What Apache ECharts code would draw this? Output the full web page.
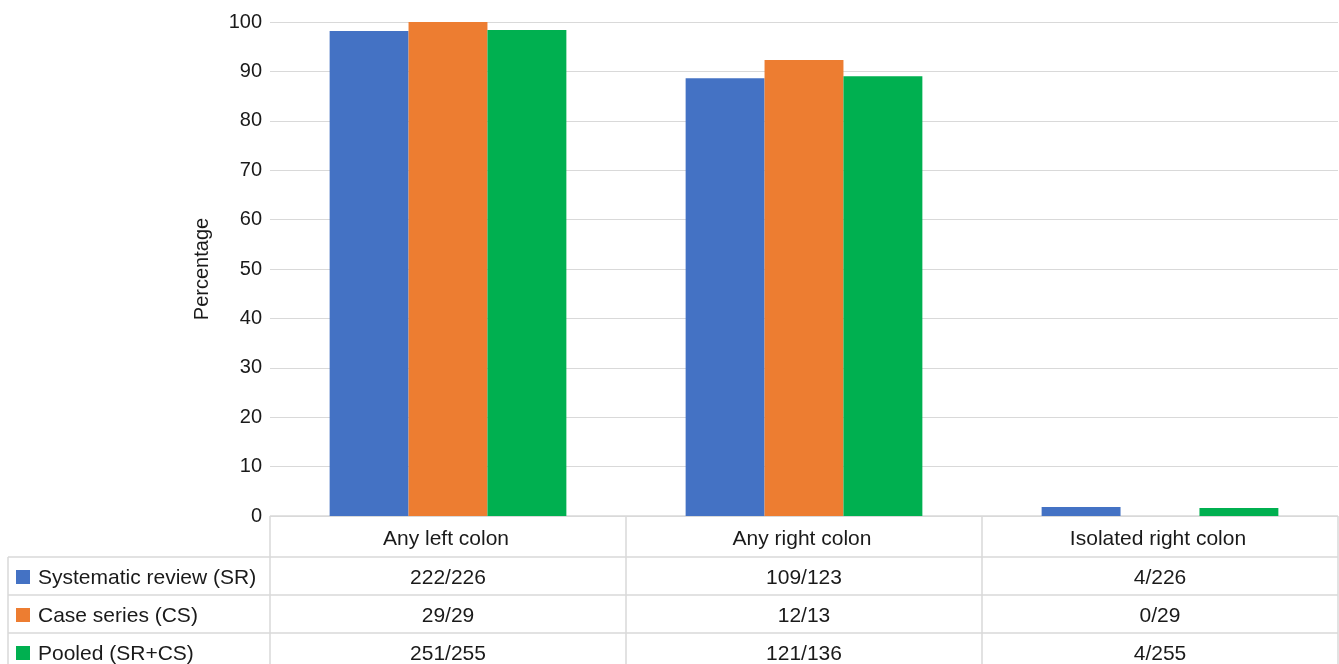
<!DOCTYPE html>
<html>
<head>
<meta charset="utf-8">
<script src="https://cdn.jsdelivr.net/npm/echarts@6/dist/echarts.min.js"></script>
<style>
  html, body { margin: 0; padding: 0; background: #fff; }
  #chart { width: 1339px; height: 664px; }
</style>
</head>
<body>
<div id="chart"></div>
<script>
// Categories and series
const categories = ['Any left colon', 'Any right colon', 'Isolated right colon'];
const seriesNames = ['Systematic review (SR)', 'Case series (CS)', 'Pooled (SR+CS)'];
const seriesColors = ['#4472C4', '#ED7D31', '#00B050'];

// Percentages per category
const srPct = [98.2, 88.6, 1.8];
const csPct = [100, 92.3, 0];
const pooledPct = [98.4, 89.0, 1.6];

// Counts shown in the data table
const srCounts = ['222/226', '109/123', '4/226'];
const csCounts = ['29/29', '12/13', '0/29'];
const pooledCounts = ['251/255', '121/136', '4/255'];

const yMin = 0, yMax = 100, yStep = 10;

const FONT = '"Liberation Sans", Arial, Helvetica, sans-serif';
const LINE = '#d9d9d9';
const TXT = '#1a1a1a';
const AXIS_FS = 20;
const TABLE_FS = 21;

const chart = echarts.init(document.getElementById('chart'), null, { renderer: 'canvas' });

const pctSeries = [srPct, csPct, pooledPct];
const countRows = [srCounts, csCounts, pooledCounts];

const gridLeft = 270, gridRight = 1, gridTop = 22, gridBottom = 148;

chart.setOption({
  animation: false,
  textStyle: { fontFamily: FONT },
  grid: { left: gridLeft, right: gridRight, top: gridTop, bottom: gridBottom, containLabel: false },
  xAxis: {
    type: 'category',
    data: categories,
    axisLine: { show: false },
    axisTick: { show: false },
    axisLabel: { show: false },
    splitLine: { show: false }
  },
  yAxis: {
    type: 'value',
    min: yMin, max: yMax, interval: yStep,
    name: 'Percentage',
    nameLocation: 'middle',
    nameGap: 58,
    nameRotate: 90,
    nameTextStyle: { fontSize: AXIS_FS, color: TXT, fontFamily: FONT },
    axisLine: { show: false },
    axisTick: { show: false },
    axisLabel: { fontSize: AXIS_FS, color: TXT, margin: 8, fontFamily: FONT },
    splitLine: { lineStyle: { color: LINE, width: 1 } }
  },
  series: pctSeries.map((vals, i) => ({
    name: seriesNames[i],
    type: 'bar',
    data: vals,
    barGap: '0%',
    barCategoryGap: '33.5%',
    itemStyle: { color: seriesColors[i] }
  }))
});

// Data table drawn beneath the plot area
function drawTable() {
  const W = chart.getWidth();
  const x0 = gridLeft, x1 = W - gridRight;
  const yTop = chart.getHeight() - gridBottom;
  const headerH = 41, rowH = 38;
  const legendLeft = 8;
  const catW = (x1 - x0) / categories.length;
  const els = [];
  const line = (xa, ya, xb, yb) => els.push({
    type: 'line', silent: true,
    shape: { x1: xa, y1: ya, x2: xb, y2: yb },
    style: { stroke: LINE, lineWidth: 1.5 }
  });
  const text = (x, y, str, align) => els.push({
    type: 'text', silent: true,
    style: { x: x, y: y, text: str, font: TABLE_FS + 'px ' + FONT, fill: TXT, align: align, verticalAlign: 'middle' }
  });

  // header row
  line(x0, yTop, x1, yTop);
  categories.forEach((c) => {
    const cx = chart.convertToPixel({ xAxisIndex: 0 }, c);
    text(cx - 2, yTop + headerH / 2 + 3, c, 'center');
  });
  // body rows
  const bodyTop = yTop + headerH;
  for (let r = 0; r <= countRows.length; r++) {
    const y = bodyTop + r * rowH;
    line(legendLeft, y, x1, y);
  }
  // vertical lines
  const yEnd = bodyTop + countRows.length * rowH;
  line(legendLeft, bodyTop, legendLeft, yEnd);
  for (let j = 0; j <= categories.length; j++) {
    const x = x0 + j * catW;
    line(x, yTop, x, yEnd);
  }
  countRows.forEach((row, r) => {
    const cy = bodyTop + r * rowH + rowH / 2 + 2;
    els.push({
      type: 'rect', silent: true,
      shape: { x: legendLeft + 8, y: cy - 8, width: 14, height: 14 },
      style: { fill: seriesColors[r] }
    });
    text(legendLeft + 30, cy, seriesNames[r], 'left');
    row.forEach((v, j) => {
      const cx = chart.convertToPixel({ xAxisIndex: 0 }, categories[j]);
      text(cx, cy, v, 'center');
    });
  });
  chart.setOption({ graphic: { elements: els } });
}
drawTable();
</script>
</body>
</html>
